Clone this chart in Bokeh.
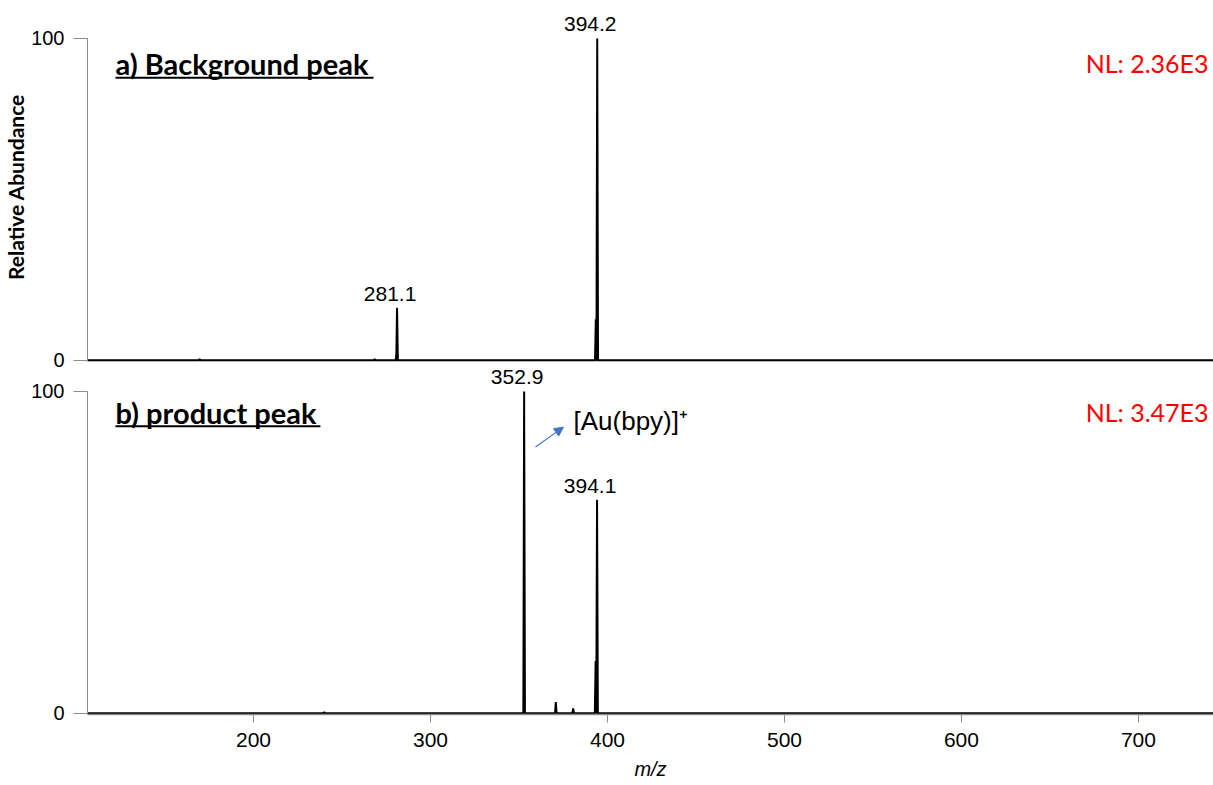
from bokeh.plotting import figure
from bokeh.layouts import column
from bokeh.models import Range1d, FixedTicker, Label, Arrow, NormalHead
from bokeh.embed import file_html
from bokeh.resources import INLINE

# m/z window shown on both panels
MZ_MIN, MZ_MAX = 106.2, 742.4
X_TICKS = [200, 300, 400, 500, 600, 700]

# a) background spectrum: centroid m/z and relative abundance (%)
bg_mz = [169.5, 268.4, 280.8, 281.1, 393.4, 394.2]
bg_int = [0.4, 0.4, 2.5, 16.3, 12.7, 100.0]
bg_labels = {"281.1": (281.1, 16.3), "394.2": (394.2, 100.0)}
bg_nl = "NL: 2.36E3"

# b) product spectrum
pr_mz = [240.0, 352.9, 370.8, 380.6, 393.3, 394.1]
pr_int = [0.3, 100.0, 3.5, 1.5, 16.2, 66.3]
pr_labels = {"352.9": (352.9, 100.0), "394.1": (394.1, 66.3)}
pr_nl = "NL: 3.47E3"

PEAK_HALF_WIDTH = 0.45
Y_FLOOR = -0.4          # keeps the 0 baseline clear of the frame edge
GREY = "#8c8c8c"
NUM_FONT = "Liberation Sans"
CAL_FONT = "Lato"


def profile(mz, inten):
    """Turn centroids into a stick-like profile trace over the full window."""
    xs, ys = [MZ_MIN], [0.0]
    for m, h in sorted(zip(mz, inten)):
        xs += [m - PEAK_HALF_WIDTH, m, m + PEAK_HALF_WIDTH]
        ys += [0.0, h, 0.0]
    xs.append(MZ_MAX)
    ys.append(0.0)
    return xs, ys


def make_panel(height, y_top, top, bottom, show_x):
    p = figure(width=1213, height=height, output_backend="svg",
               toolbar_location=None,
               x_range=Range1d(MZ_MIN, MZ_MAX),
               y_range=Range1d(Y_FLOOR, y_top),
               min_border_left=87, min_border_right=0,
               min_border_top=top, min_border_bottom=bottom)
    p.outline_line_color = None
    p.xgrid.visible = False
    p.ygrid.visible = False
    p.background_fill_alpha = 0
    p.border_fill_alpha = 0

    ya = p.yaxis[0]
    ya.ticker = FixedTicker(ticks=[0, 100])
    ya.bounds = (Y_FLOOR, 100)
    ya.major_tick_out = 14
    ya.major_tick_in = 0
    ya.minor_tick_out = 0
    ya.minor_tick_in = 0
    ya.axis_line_color = GREY
    ya.major_tick_line_color = GREY
    ya.major_label_text_font = NUM_FONT
    ya.major_label_text_font_size = "20px"
    ya.major_label_text_color = "black"
    ya.major_label_standoff = 9

    if show_x:
        xa = p.xaxis[0]
        xa.axis_line_color = GREY
        xa.axis_line_width = 1.5
        xa.ticker = FixedTicker(ticks=X_TICKS)
        xa.major_tick_out = 8
        xa.major_tick_in = 0
        xa.minor_tick_out = 0
        xa.minor_tick_in = 0
        xa.major_tick_line_color = GREY
        xa.major_label_text_font = NUM_FONT
        xa.major_label_text_font_size = "21px"
        xa.major_label_text_color = "black"
        xa.major_label_standoff = 10
    else:
        p.xaxis.visible = False
        # thin grey axis line under the baseline
        p.line([MZ_MIN, MZ_MAX], [Y_FLOOR * 0.6, Y_FLOOR * 0.6],
               line_color=GREY, line_width=1.5)
    return p


def decorate(p, mz, inten, labels, title, title_y, title_w, nl, nl_y):
    xs, ys = profile(mz, inten)
    p.line(xs, ys, line_color="black", line_width=2)
    for text, (m, h) in labels.items():
        p.add_layout(Label(x=m, y=h + 4.4, text=text, text_align="center",
                           text_baseline="middle", x_offset=-7,
                           text_font=NUM_FONT, text_font_size="21px",
                           text_color="black"))
    title_x = 122.0
    p.add_layout(Label(x=title_x, y=title_y, text=title,
                       text_baseline="middle", text_font=CAL_FONT,
                       text_font_style="bold", text_font_size="29px",
                       text_color="black"))
    # underline below the panel title
    p.segment(x0=[title_x], y0=[title_y - 4.4], x1=[title_x + title_w],
              y1=[title_y - 4.4], line_color="black", line_width=2)
    p.add_layout(Label(x=MZ_MAX - 2.8, y=nl_y, text=nl, text_align="right",
                       text_baseline="middle", text_font=CAL_FONT,
                       text_font_size="25px", text_color="red"))


top = make_panel(380, 108.05, 12, 19, False)
top.yaxis[0].axis_label = "Relative Abundance"
top.yaxis[0].axis_label_text_font = CAL_FONT
top.yaxis[0].axis_label_text_font_style = "bold"
top.yaxis[0].axis_label_text_font_size = "21px"
top.yaxis[0].axis_label_text_color = "black"
top.yaxis[0].axis_label_standoff = 0
decorate(top, bg_mz, bg_int, bg_labels, "a) Background peak", 92.2, 145.8,
         bg_nl, 92.3)

# the lower panel tucks up under the upper one's bottom border
bot = make_panel(423, 107.74, 4, 71, True)
bot.margin = (-18, 0, 0, 0)
bot.xaxis[0].axis_label = "m/z"
bot.xaxis[0].axis_label_text_font = NUM_FONT
bot.xaxis[0].axis_label_text_font_style = "italic"
bot.xaxis[0].axis_label_text_font_size = "20px"
bot.xaxis[0].axis_label_text_color = "black"
bot.xaxis[0].axis_label_standoff = 8
decorate(bot, pr_mz, pr_int, pr_labels, "b) product peak", 93.6, 115.8,
         pr_nl, 93.5)

# ion annotation with pointer to the 352.9 peak
bot.add_layout(Label(x=380.8, y=90.7, text="[Au(bpy)]\u207a",
                     text_baseline="middle", text_font=NUM_FONT,
                     text_font_size="26px", text_color="black"))
bot.add_layout(Arrow(x_start=359.3, y_start=82.7, x_end=375.1, y_end=88.9,
                     line_color="#4472c4", line_width=1.2,
                     end=NormalHead(size=9, fill_color="#4472c4",
                                    line_color="#4472c4")))

layout = column(top, bot, spacing=0)
open("out.html", "w").write(file_html(layout, INLINE))
